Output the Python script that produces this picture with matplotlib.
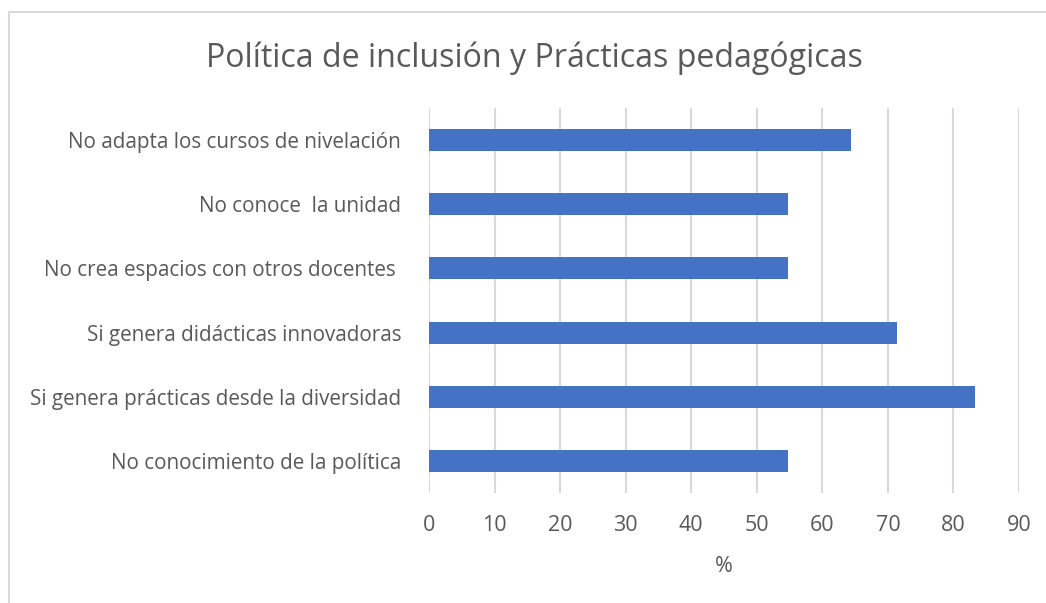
import matplotlib
matplotlib.use("Agg")
import matplotlib.pyplot as plt
from matplotlib.lines import Line2D

plt.rcParams['font.family'] = ['Open Sans', 'DejaVu Sans']

title = "Política de inclusión y Prácticas pedagógicas"
categories = [
    "No conocimiento de la política",
    "Si genera prácticas desde la diversidad",
    "Si genera didácticas innovadoras",
    "No crea espacios con otros docentes ",
    "No conoce  la unidad",
    "No adapta los cursos de nivelación",
]
values = [54.8, 83.3, 71.4, 54.8, 54.8, 64.3]
xticks = [0, 10, 20, 30, 40, 50, 60, 70, 80, 90]
xlabel = "%"

text_color = "#595959"
bar_color = "#4472C4"
grid_color = "#d9d9d9"

W, H = 1046, 603
fig = plt.figure(figsize=(W / 100, H / 100), dpi=100)
ax = fig.add_axes([429 / W, 1 - 493 / H, (1019 - 429) / W, (493 - 108) / H])

ypos = range(len(categories))
ax.barh(ypos, values, height=0.345, color=bar_color, zorder=3)
ax.set_ylim(-0.5, len(categories) - 0.5)
ax.set_xlim(0, 90)
ax.set_xticks(xticks)
ax.set_yticks(list(ypos))
ax.set_yticklabels(categories)

ax.grid(axis="x", color=grid_color, linewidth=1.5, zorder=0)
ax.grid(axis="y", visible=False)
for s in ax.spines.values():
    s.set_visible(False)
ax.tick_params(axis="both", length=0, colors=text_color)
ax.tick_params(axis="y", pad=20, labelsize=14.9)
ax.tick_params(axis="x", pad=16, labelsize=15.5)
ax.set_xlabel(xlabel, color=text_color, fontsize=15.5, labelpad=14)

fig.text(534 / W, 1 - 58 / H, title, ha="center", va="center",
         fontsize=23.1, color=text_color)

# chart frame
fig.add_artist(Line2D([9 / W, 9 / W, 1.0], [0.0, 1 - 12 / H, 1 - 12 / H],
                      transform=fig.transFigure, color=grid_color, linewidth=1.5))

fig.savefig("out.png", dpi=100, facecolor="white")
